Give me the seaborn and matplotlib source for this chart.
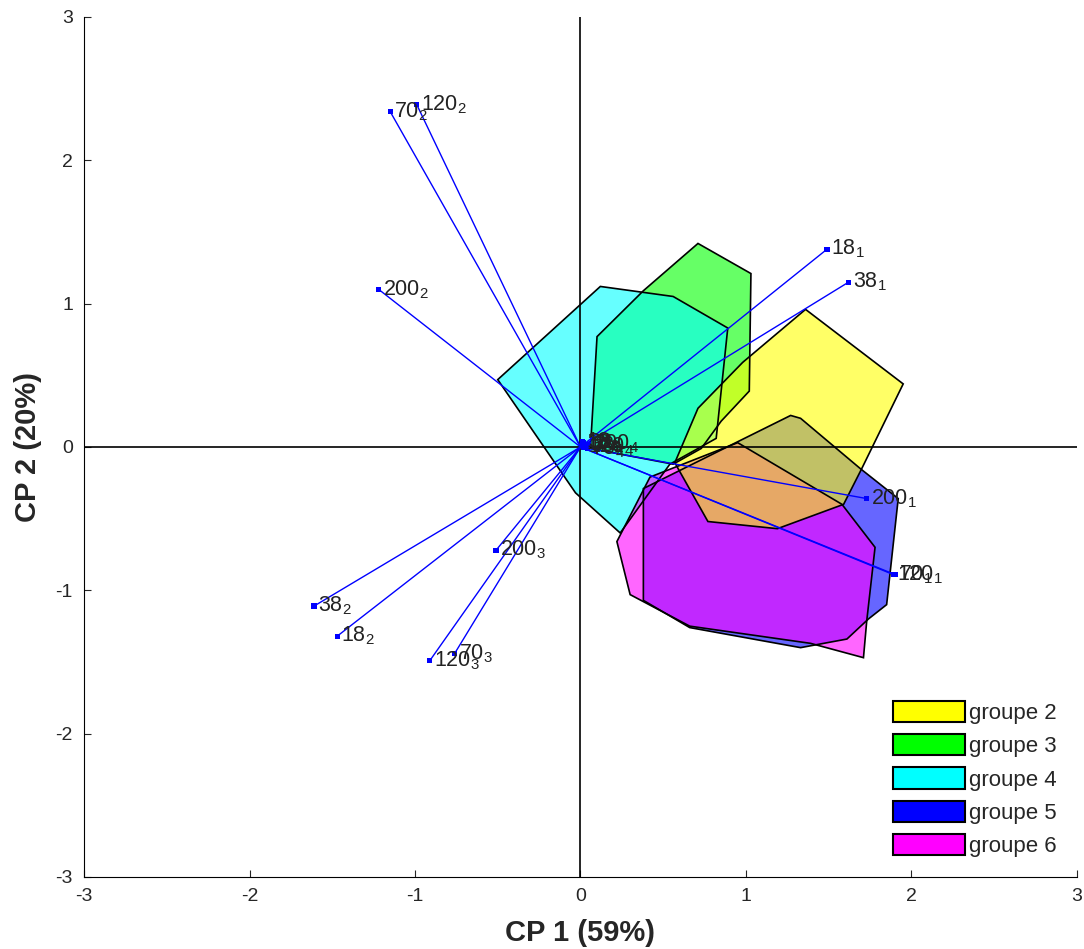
import matplotlib
matplotlib.use("Agg")
import matplotlib.pyplot as plt
from matplotlib.patches import Polygon, Patch
import numpy as np
import pandas as pd
import seaborn as sns

# hull outlines of the groups (CP1, CP2)
g2_x = [1.36, 1.95, 1.70, 1.59, 1.19, 0.77, 0.57, 0.71, 0.98]
g2_y = [0.96, 0.44, -0.15, -0.40, -0.57, -0.52, -0.11, 0.27, 0.59]
g3_x = [0.06, 0.10, 0.38, 0.71, 1.03, 1.02, 0.85, 0.73, 0.56]
g3_y = [-0.01, 0.77, 1.09, 1.42, 1.21, 0.39, 0.18, -0.01, -0.12]
g4_x = [-0.50, 0.12, 0.56, 0.89, 0.82, 0.54, 0.24, -0.03]
g4_y = [0.47, 1.12, 1.05, 0.83, 0.06, -0.12, -0.60, -0.32]
g5_x = [1.27, 1.33, 1.69, 1.92, 1.85, 1.74, 1.61, 1.33, 0.66, 0.38, 0.38]
g5_y = [0.22, 0.20, -0.15, -0.36, -1.10, -1.20, -1.34, -1.40, -1.26, -1.07, -0.29]
g6_x = [0.95, 1.58, 1.78, 1.73, 1.71, 1.39, 0.66, 0.30, 0.22, 0.42]
g6_y = [0.03, -0.40, -0.70, -1.21, -1.47, -1.37, -1.25, -1.03, -0.66, -0.21]

group_names = ["groupe 2", "groupe 3", "groupe 4", "groupe 5", "groupe 6"]
group_colors = [(1, 1, 0), (0, 1, 0), (0, 1, 1), (0, 0, 1), (1, 0, 1)]

# loading vectors
var_names = ["18", "38", "70", "120", "200",
             "18", "38", "70", "120", "200",
             "18", "38", "70", "120", "200",
             "18", "38", "70", "120", "200"]
var_subs = ["1"] * 5 + ["2"] * 5 + ["3"] * 5 + ["4"] * 5
cp1 = [1.49, 1.62, 1.90, 1.89, 1.73,
       -1.47, -1.61, -1.15, -0.99, -1.22,
       0.01, 0.02, -0.76, -0.91, -0.51,
       0.01, 0.03, 0.04, 0.02, 0.05]
cp2 = [1.38, 1.15, -0.89, -0.89, -0.36,
       -1.32, -1.11, 2.34, 2.39, 1.10,
       0.04, 0.03, -1.44, -1.49, -0.72,
       0.02, 0.01, -0.01, 0.00, 0.02]

df = pd.DataFrame({"cp1": cp1, "cp2": cp2, "name": var_names, "sub": var_subs})

sns.set_style("white")
plt.rcParams["font.family"] = ["Liberation Sans", "DejaVu Sans"]
plt.rcParams["mathtext.fontset"] = "custom"
plt.rcParams["mathtext.rm"] = "Liberation Sans"
plt.rcParams["axes.unicode_minus"] = False

fig = plt.figure(figsize=(10.84, 9.49), dpi=100)
ax = fig.add_axes([0.0775, 0.0759, 0.916, 0.9062])

hulls = [(g2_x, g2_y), (g3_x, g3_y), (g4_x, g4_y), (g5_x, g5_y), (g6_x, g6_y)]
draw_order = [5, 1, 2, 3, 4]  # green, cyan, blue, magenta under yellow
for (hx, hy), col, z in zip(hulls, group_colors, draw_order):
    pts = np.column_stack([hx, hy])
    ax.add_patch(Polygon(pts, closed=True, facecolor=(*col, 0.6),
                         edgecolor="none", zorder=z))
    # outlines stay visible through the other hulls
    ax.add_patch(Polygon(pts, closed=True, fill=False, edgecolor="black",
                         lw=1.2, zorder=5.5))

ax.axhline(0, color="black", lw=1.2, zorder=6)
ax.axvline(0, color="black", lw=1.2, zorder=6)

for _, r in df.iterrows():
    ax.plot([0, r.cp1], [0, r.cp2], color="blue", lw=1, zorder=7)
    ax.annotate(rf"$\mathregular{{{r['name']}_{{{r['sub']}}}}}$", (r.cp1, r.cp2),
                xytext=(3, 0), textcoords="offset points", ha="left", va="center",
                fontsize=15.5, color="#222222", zorder=9)
sns.scatterplot(data=df, x="cp1", y="cp2", marker="s", s=14, color="blue",
                edgecolor="none", ax=ax, zorder=8, legend=False)

ax.set_xlim(-3, 3)
ax.set_ylim(-3, 3)
ax.set_xticks(range(-3, 4))
ax.set_yticks(range(-3, 4))
ax.tick_params(direction="in", length=5, labelsize=14, left=True, bottom=True, pad=8)
for s in ["top", "right"]:
    ax.spines[s].set_visible(False)
for s in ["left", "bottom"]:
    ax.spines[s].set_color("black")
ax.set_xlabel("CP 1 (59%)", fontsize=21, fontweight="bold", labelpad=10)
ax.set_ylabel("CP 2 (20%)", fontsize=21, fontweight="bold", labelpad=10)

handles = [Patch(facecolor=c, edgecolor="black", lw=1.5) for c in group_colors]
ax.legend(handles, group_names, loc="lower right", frameon=False, fontsize=16,
          handlelength=3.25, handleheight=1.1, handletextpad=0.2, labelspacing=0.45,
          borderaxespad=0.5, bbox_to_anchor=(1.0, 0.0))

fig.savefig("out.png", dpi=100)
